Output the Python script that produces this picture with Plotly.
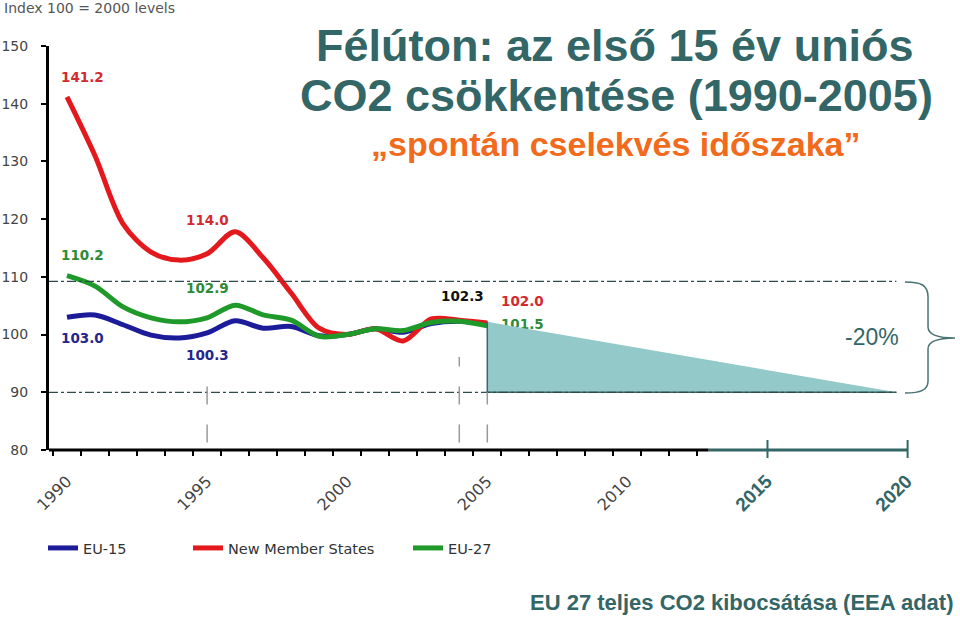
import plotly.graph_objects as go

# index values, 2000 = 100
years = list(range(1990, 2006))
eu15 = [103.0, 103.4, 101.7, 99.9, 99.4, 100.3, 102.4, 101.1, 101.4, 99.8,
        100.0, 101.0, 100.4, 101.9, 102.3, 101.8]
new_members = [141.2, 131.0, 119.2, 114.3, 112.9, 114.0, 117.8, 113.3, 107.2, 101.1,
               100.0, 101.0, 98.9, 102.7, 102.5, 102.0]
eu27 = [110.2, 108.4, 104.8, 102.9, 102.2, 102.9, 105.1, 103.4, 102.5, 99.7,
        100.0, 101.0, 100.7, 102.1, 102.3, 101.5]

# -20% target wedge 2005 -> 2020
target_years = [2005, 2005, 2019.6]
target_values = [102.2, 90.0, 90.0]
band_levels = [109.2, 90.0]

year_ticks = [1990, 1995, 2000, 2005, 2010, 2015, 2020]
y_ticks = [80, 90, 100, 110, 120, 130, 140, 150]

# value labels: text, year, y, colour
value_labels = [
    ("141.2", 1990.57, 144.6, "#d42a2f"),
    ("114.0", 1995.0, 119.9, "#d42a2f"),
    ("110.2", 1990.54, 113.8, "#2e8b35"),
    ("102.9", 1995.03, 108.1, "#2e8b35"),
    ("103.0", 1990.57, 99.4, "#25258c"),
    ("100.3", 1995.03, 96.5, "#25258c"),
    ("102.3", 2004.1, 106.7, "#111111"),
    ("102.0", 2006.25, 105.8, "#d42a2f"),
]

W, H = 960, 627
L, R, T, B = 49, 0, 46, 177
PW, PH = W - L - R, H - T - B
TEAL = "#336666"
FONT = "DejaVu Sans"


def paper(x, y):
    # pixel -> paper coordinates
    return (x - L) / PW, (H - B - y) / PH


x_range = [1989.358, 2021.87]

fig = go.Figure()
series = [("EU-15", eu15, "#1c1c9a", "legend"),
          ("New Member States", new_members, "#e3191e", "legend2"),
          ("EU-27", eu27, "#1f9a2a", "legend3")]
for name, vals, color, lg in series:
    fig.add_trace(go.Scatter(
        x=years, y=vals, name=name, mode="lines",
        line=dict(color=color, width=5, shape="spline", smoothing=0.9),
        legend=lg,
    ))

# label partly hidden behind the wedge
fig.add_trace(go.Scatter(
    x=[2006.25], y=[eu27[-1]], mode="text", text=["101.5"],
    textfont=dict(family=FONT, size=13.5, color="#2e8b35", weight="bold"),
    showlegend=False, hoverinfo="skip",
))
fig.add_trace(go.Scatter(
    x=target_years, y=target_values, mode="lines", fill="toself",
    fillcolor="#93c9c9", line=dict(color="#3a6868", width=1.5),
    showlegend=False, hoverinfo="skip",
))

shapes = []
for lvl in band_levels:
    shapes.append(dict(type="line", xref="x", yref="y", x0=x_range[0], x1=target_years[-1],
                       y0=lvl, y1=lvl, line=dict(color="#2f4a4a", width=1.2, dash="dashdot")))
for yr, top in [(1995, 91.3), (2004, 96.1), (2005, 90.0)]:
    shapes.append(dict(type="line", xref="x", yref="y", x0=yr, x1=yr, y0=81.3, y1=top,
                       line=dict(color="#9a9a9a", width=1.5, dash="18px,20px")))
# x axis: black part (measured years) and teal part (projection)
shapes.append(dict(type="line", xref="x", yref="paper", x0=x_range[0], x1=2012.9, y0=0, y1=0,
                   line=dict(color="black", width=3)))
shapes.append(dict(type="line", xref="x", yref="paper", x0=2012.9, x1=2020, y0=0, y1=0,
                   line=dict(color=TEAL, width=3)))
for yr in (2015, 2020):
    shapes.append(dict(type="line", xref="x", yref="paper", x0=yr, x1=yr,
                       y0=paper(0, 440)[1], y1=paper(0, 458)[1],
                       line=dict(color=TEAL, width=2)))
# curly brace for -20%
pts = [(905, 282), (921, 282), (928, 285), (928, 297), (928, 327), (928, 334), (936, 338),
       (955, 338), (936, 338), (928, 342), (928, 349), (928, 381), (928, 390), (921, 393), (905, 393)]
pp = [paper(x, y) for x, y in pts]
path = "M{:.4f},{:.4f}".format(*pp[0])
path += " C{:.4f},{:.4f} {:.4f},{:.4f} {:.4f},{:.4f}".format(*pp[1], *pp[2], *pp[3])
path += " L{:.4f},{:.4f}".format(*pp[4])
path += " C{:.4f},{:.4f} {:.4f},{:.4f} {:.4f},{:.4f}".format(*pp[5], *pp[6], *pp[7])
path += " C{:.4f},{:.4f} {:.4f},{:.4f} {:.4f},{:.4f}".format(*pp[8], *pp[9], *pp[10])
path += " L{:.4f},{:.4f}".format(*pp[11])
path += " C{:.4f},{:.4f} {:.4f},{:.4f} {:.4f},{:.4f}".format(*pp[12], *pp[13], *pp[14])
shapes.append(dict(type="path", xref="paper", yref="paper", path=path,
                   line=dict(color="#4a7272", width=1.5)))

annotations = []
for text, x, y, color in value_labels:
    annotations.append(dict(x=x, y=y, xref="x", yref="y", text="<b>%s</b>" % text,
                            showarrow=False, font=dict(family=FONT, size=13.5, color=color)))


def note(text, x, y, size, color, family="Liberation Sans", xanchor="center"):
    px, py = paper(x, y)
    annotations.append(dict(x=px, y=py, xref="paper", yref="paper", text=text, showarrow=False,
                            xanchor=xanchor, yanchor="middle",
                            font=dict(family=family, size=size, color=color)))


note("<b>Félúton: az első 15 év uniós</b>", 615, 45, 45, TEAL)
note("<b>CO2 csökkentése (1990-2005)</b>", 616, 95, 45, TEAL)
note("<b>„spontán cselekvés időszaka”</b>", 615, 144, 34, "#f26a1b")
note("-20%", 872, 337, 23, TEAL)
note("<b>EU 27 teljes CO2 kibocsátása (EEA adat)</b>", 955, 602, 22, TEAL, xanchor="right")
note("Index 100 = 2000 levels", 2, 8, 14, "#555555", family=FONT, xanchor="left")

tick_text = [str(y) for y in year_ticks[:-2]] + [
    '<b><span style="font-family:Liberation Sans;font-size:19px;color:%s">%d</span></b>' % (TEAL, y)
    for y in year_ticks[-2:]]

legend_style = dict(orientation="h", yanchor="middle", xanchor="left", bgcolor="rgba(0,0,0,0)",
                    font=dict(family=FONT, size=14.5, color="#333333"))
ly = paper(0, 548)[1]

fig.update_layout(
    width=W, height=H,
    margin=dict(l=L, r=R, t=T, b=B, autoexpand=False),
    paper_bgcolor="white", plot_bgcolor="white",
    shapes=shapes, annotations=annotations,
    legend=dict(x=paper(43, 0)[0], y=ly, **legend_style),
    legend2=dict(x=paper(188, 0)[0], y=ly, **legend_style),
    legend3=dict(x=paper(408, 0)[0], y=ly, **legend_style),
)
fig.update_xaxes(
    range=x_range, showgrid=False, zeroline=False, showline=False,
    tickvals=year_ticks, ticktext=tick_text, tickangle=-45, ticks="",
    ticklabelstandoff=18,
    tickfont=dict(family=FONT, size=16, color="#444444"),
    minor=dict(tickvals=[1989.5 + i for i in range(24)], ticks="outside",
               ticklen=5, tickwidth=2, tickcolor="black"),
)
fig.update_yaxes(
    range=[80, 150], showgrid=False, zeroline=False,
    showline=True, linecolor="black", linewidth=3,
    tickvals=y_ticks, ticks="outside", ticklen=5, tickwidth=2, tickcolor="black",
    ticklabelstandoff=10,
    tickfont=dict(family=FONT, size=14, color="#444444"),
)

# the page body has a default 8px margin; drop it so the figure fills the window
fig.write_html("out.html", config={"displayModeBar": False},
               post_script="document.body.style.margin = '0';")
